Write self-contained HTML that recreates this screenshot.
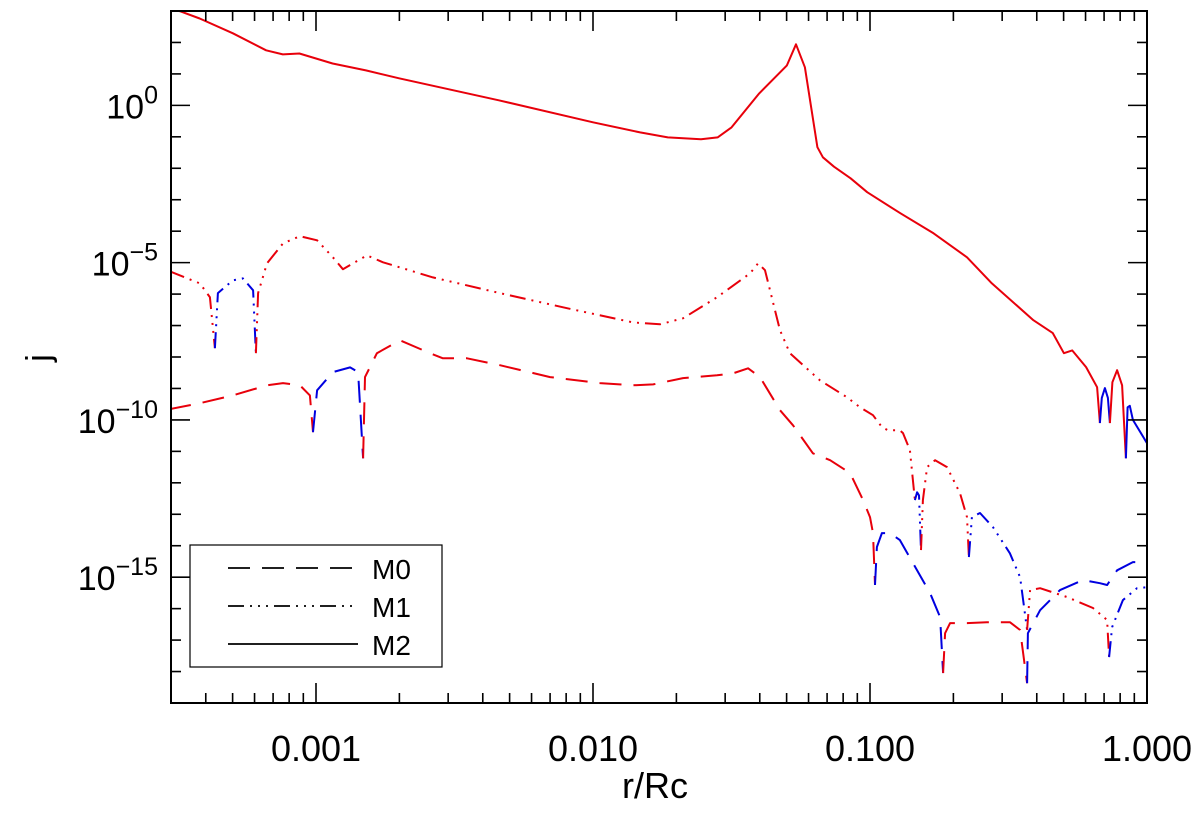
<!DOCTYPE html>
<html><head><meta charset="utf-8"><style>
body{margin:0;background:#fff}
svg text{font-family:"Liberation Sans",sans-serif;fill:#000}
</style></head><body>
<svg id="chart" width="1200" height="814" viewBox="0 0 1200 814" xmlns="http://www.w3.org/2000/svg">
<rect x="0" y="0" width="1200" height="814" fill="#fff"/>
<g id="series"></g>
<g id="axes"></g>
<rect x="171" y="11" width="976" height="692" fill="none" stroke="#000" stroke-width="2"/>
<text x="655" y="798" font-size="36" text-anchor="middle">r/Rc</text>
<text x="0" y="0" font-size="34" text-anchor="middle" transform="translate(50,358) rotate(-90)">j</text>
<g>
<rect x="190" y="545" width="252" height="122" fill="#fff" stroke="#000" stroke-width="1.2"/>
<line x1="228" y1="568" x2="358" y2="568" stroke="#000" stroke-width="1.8" stroke-dasharray="22,12"/>
<text x="372" y="579" font-size="28">M0</text>
<line x1="228" y1="606" x2="358" y2="606" stroke="#000" stroke-width="1.8" stroke-dasharray="16,6,2,6,2,6,2,6"/>
<text x="372" y="617" font-size="28">M1</text>
<line x1="228" y1="644" x2="358" y2="644" stroke="#000" stroke-width="1.8"/>
<text x="372" y="655" font-size="28">M2</text>
</g>
</svg>
<script>
// log10(r) and log10|j| ; sign: 1 positive (red), -1 negative (blue), 0 zero crossing
const m2LogR=[-3.53,-3.49,-3.42,-3.30,-3.18,-3.12,-3.06,-2.94,-2.82,-2.70,-2.34,-2.00,-1.83,-1.73,-1.61,-1.55,-1.50,-1.40,-1.30,-1.267,-1.235,-1.19,-1.17,-1.13,-1.07,-1.01,-0.89,-0.77,-0.65,-0.56,-0.41,-0.34,-0.30,-0.27,-0.22,-0.18,-0.17,-0.163,-0.152,-0.141,-0.134,-0.125,-0.108,-0.09,-0.076,-0.07,-0.062,-0.051,0];
const m2LogJ=[3.05,2.99,2.76,2.29,1.75,1.62,1.65,1.33,1.11,0.86,0.16,-0.54,-0.86,-1.02,-1.08,-1.02,-0.70,0.38,1.27,1.94,1.21,-1.33,-1.65,-1.95,-2.32,-2.76,-3.43,-4.07,-4.83,-5.66,-6.83,-7.24,-7.88,-7.79,-8.32,-8.96,-10.1,-9.3,-8.99,-9.3,-10.1,-8.8,-8.42,-8.9,-11.22,-9.6,-9.55,-10.0,-10.74];
const m2Sign=[1,1,1,1,1,1,1,1,1,1,1,1,1,1,1,1,1,1,1,1,1,1,1,1,1,1,1,1,1,1,1,1,1,1,1,1,0,-1,-1,-1,0,1,1,1,0,-1,-1,-1,-1];

const m1LogR=[-3.53,-3.419,-3.383,-3.365,-3.354,-3.300,-3.264,-3.227,-3.217,-3.209,-3.177,-3.119,-3.058,-2.996,-2.939,-2.903,-2.866,-2.816,-2.758,-2.697,-2.578,-2.336,-2.094,-1.856,-1.758,-1.675,-1.552,-1.433,-1.404,-1.379,-1.325,-1.289,-1.181,-1.083,-1.036,-0.989,-0.957,-0.935,-0.892,-0.881,-0.856,-0.838,-0.830,-0.823,-0.816,-0.809,-0.794,-0.765,-0.722,-0.675,-0.650,-0.643,-0.632,-0.603,-0.556,-0.495,-0.458,-0.433,-0.422,-0.386,-0.289,-0.195,-0.144,-0.137,-0.126,-0.087,-0.036,0];
const m1LogJ=[-5.27,-5.66,-6.10,-7.72,-5.97,-5.56,-5.50,-5.88,-7.88,-5.97,-5.02,-4.39,-4.16,-4.29,-4.83,-5.21,-5.02,-4.77,-4.99,-5.15,-5.47,-5.97,-6.45,-6.90,-6.96,-6.77,-6.10,-5.34,-5.02,-5.24,-7.15,-7.88,-8.74,-9.28,-9.60,-9.85,-10.23,-10.33,-10.33,-10.42,-10.96,-12.55,-12.30,-12.4,-14.14,-12.55,-11.50,-11.28,-11.50,-12.33,-13.09,-14.36,-13.09,-12.96,-13.41,-14.24,-15.00,-16.68,-15.41,-15.35,-15.63,-15.98,-16.36,-17.54,-16.59,-15.73,-15.35,-15.32];
const m1Sign=[1,1,1,0,-1,-1,-1,-1,0,1,1,1,1,1,1,1,1,1,1,1,1,1,1,1,1,1,1,1,1,1,1,1,1,1,1,1,1,1,1,1,1,0,-1,-1,0,1,1,1,1,1,1,0,-1,-1,-1,-1,-1,0,1,1,1,1,1,0,-1,-1,-1,-1];

const m0LogR=[-3.53,-3.419,-3.300,-3.177,-3.119,-3.058,-3.022,-3.011,-2.996,-2.939,-2.877,-2.848,-2.830,-2.823,-2.780,-2.697,-2.588,-2.542,-2.455,-2.336,-2.155,-1.975,-1.856,-1.783,-1.675,-1.552,-1.495,-1.440,-1.397,-1.325,-1.278,-1.206,-1.144,-1.072,-1.025,-1.000,-0.989,-0.982,-0.975,-0.957,-0.928,-0.892,-0.845,-0.783,-0.747,-0.736,-0.729,-0.711,-0.650,-0.578,-0.495,-0.458,-0.433,-0.430,-0.386,-0.314,-0.231,-0.170,-0.144,-0.108,-0.051,0];
const m0LogJ=[-9.66,-9.47,-9.22,-8.90,-8.83,-8.90,-9.22,-10.39,-9.06,-8.48,-8.33,-8.48,-11.22,-8.64,-7.88,-7.47,-7.88,-8.04,-8.04,-8.26,-8.64,-8.83,-8.90,-8.87,-8.67,-8.58,-8.52,-8.36,-8.64,-9.69,-10.17,-11.06,-11.28,-11.69,-12.55,-13.09,-13.60,-15.25,-14.04,-13.60,-13.60,-13.82,-14.55,-15.51,-16.27,-18.05,-16.78,-16.46,-16.46,-16.43,-16.43,-16.68,-18.37,-16.78,-16.05,-15.41,-15.09,-15.19,-15.25,-14.78,-14.52,-14.52];
const m0Sign=[1,1,1,1,1,1,1,0,-1,-1,-1,-1,0,1,1,1,1,1,1,1,1,1,1,1,1,1,1,1,1,1,1,1,1,1,1,1,1,0,-1,-1,-1,-1,-1,-1,-1,0,1,1,1,1,1,1,0,-1,-1,-1,-1,-1,-1,-1,-1,-1];

const xTickLabels=["0.001","0.010","0.100","1.000"];
const xTickDecades=[-3,-2,-1,0];
const yMajorExps=[0,-5,-10,-15];

const NS="http://www.w3.org/2000/svg";
const X0=171,X1=1147,Y0=11,Y1=703;
const LXMIN=-3+(171-316)/277, LXMAX=0, LYMAX=3, LYMIN=-19;
function xs(l){return X0+(l-LXMIN)/(LXMAX-LXMIN)*(X1-X0);}
function ys(l){return Y0+(LYMAX-l)/(LYMAX-LYMIN)*(Y1-Y0);}
function mk(tag,attrs,parent){const e=document.createElementNS(NS,tag);for(const k in attrs)e.setAttribute(k,attrs[k]);parent.appendChild(e);return e;}

const series=document.getElementById('series');
function drawSeries(name,lr,lj,sg,dash){
  const g=mk('g',{'clip-path':'url(#clip)'},series);
  
  
  let runs=[];let cur=null;
  for(let i=0;i<lr.length-1;i++){
    const c=(sg[i]!==0?sg[i]:sg[i+1])>=0?1:-1;
    if(!cur||cur.c!==c){cur={c:c,pts:[[lr[i],lj[i]]]};runs.push(cur);}
    cur.pts.push([lr[i+1],lj[i+1]]);
  }
  runs.forEach((r,k)=>{
    const d=r.pts.map((p,j)=>(j?'L':'M')+xs(p[0]).toFixed(1)+','+ys(p[1]).toFixed(1)).join(' ');
    const p=mk('path',{d:d,fill:'none',stroke:r.c>0?'#e8000b':'#0000e0','stroke-width':'2','stroke-linejoin':'round'},g);
    if(dash)p.setAttribute('stroke-dasharray',dash);
    
    
  });
}
const svg=document.getElementById('chart');
const defs=mk('defs',{},svg);
const cp=mk('clipPath',{id:'clip'},defs);
mk('rect',{x:X0,y:Y0,width:X1-X0,height:Y1-Y0},cp);
drawSeries('series-m0',m0LogR,m0LogJ,m0Sign,'22,12');
drawSeries('series-m1',m1LogR,m1LogJ,m1Sign,'16,6,2,6,2,6,2,6');
drawSeries('series-m2',m2LogR,m2LogJ,m2Sign,null);

const axes=document.getElementById('axes');
for(let dec=-4;dec<=0;dec++){
  for(let m=1;m<=9;m++){
    const l=dec+Math.log10(m);
    if(l<LXMIN-1e-9||l>LXMAX+1e-9)continue;
    const x=xs(l);const len=m===1?20:10;
    const t1=mk('line',{x1:x,y1:Y1,x2:x,y2:Y1-len,stroke:'#000','stroke-width':'1.6'},axes);
    
    
    const t2=mk('line',{x1:x,y1:Y0,x2:x,y2:Y0+len,stroke:'#000','stroke-width':'1.6'},axes);
    
    
  }
}
xTickDecades.forEach((d,i)=>{
  const t=mk('text',{x:xs(d),y:761,'font-size':'36','text-anchor':'middle'},axes);
  t.textContent=xTickLabels[i];
  
  
});
for(let e=LYMIN+1;e<LYMAX;e++){
  const y=ys(e);const len=(e%5===0)?19:10;
  const a=mk('line',{x1:X0,y1:y,x2:X0+len,y2:y,stroke:'#000','stroke-width':'1.6'},axes);
  
  
  const b=mk('line',{x1:X1,y1:y,x2:X1-len,y2:y,stroke:'#000','stroke-width':'1.6'},axes);
  
  
}
yMajorExps.forEach(e=>{
  const t=mk('text',{x:158,y:ys(e)+13,'font-size':'34','text-anchor':'end'},axes);
  
  
  const s1=mk('tspan',{},t);s1.textContent='10';
  const s2=mk('tspan',{dy:'-15','font-size':'25'},t);s2.textContent=(e===0?'0':'\u2212'+(-e));
});
</script>
</body></html>
